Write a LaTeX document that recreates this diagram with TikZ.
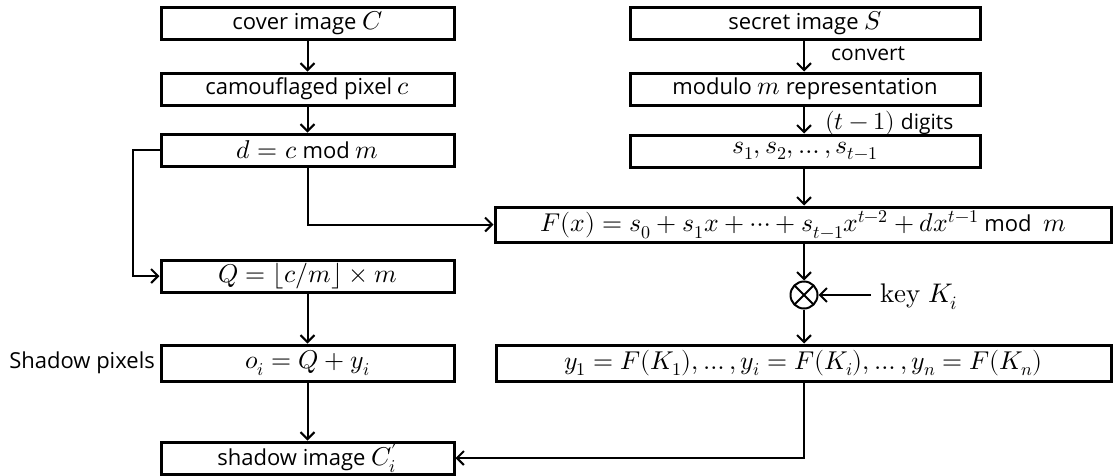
\documentclass[tikz,border=0pt]{standalone}
\usepackage{fontspec}
\usepackage{unicode-math}
\setmathfont{Latin Modern Math}[Scale=1.17]
\setsansfont{Open Sans}
\usetikzlibrary{arrows.meta}
\begin{document}
\begin{tikzpicture}[x=1pt,y=-1pt,
  every node/.style={font=\fontsize{22}{26}\selectfont\sffamily},
  box/.style={draw, line width=3pt, inner sep=0pt, anchor=center},
  lbox/.style={box, minimum width=293pt, minimum height=32pt},
  conn/.style={line width=2pt, -{Straight Barb[length=7pt,width=14pt,line width=2pt]}},
  lbl/.style={inner sep=0pt, anchor=west}]
\useasboundingbox (0,0) rectangle (1114,475);

% left column
\node[lbox] (cover) at (307.5,23) {cover image $C$};
\node[lbox] (camo)  at (307.5,89) {camouflaged pixel $c$};
\node[lbox] (dmod)  at (307.5,150) {$d = c$ mod $m$};
\node[lbox] (quot)  at (307.5,276) {$Q = \lfloor c/m \rfloor \times m$};
\node[lbox, minimum height=36pt] (opix) at (307.5,363) {$o_i = Q + y_i$};
\node[lbox] (shadow) at (307.5,458) {shadow image $C_i^{\prime}$};
\node[lbl, anchor=east, font=\fontsize{22}{26}\selectfont\sffamily] (splab) at (155,363) {Shadow pixels};

% right column
\node[box, minimum width=350pt, minimum height=32pt] (secret) at (805,23) {secret image $S$};
\node[box, minimum width=350pt, minimum height=32pt] (modrep) at (805,89) {modulo $m$ representation};
\node[box, minimum width=350pt, minimum height=32pt] (digits) at (805,151) {$s_1, s_2, \ldots, s_{t-1}$};
\node[box, minimum width=616pt, minimum height=35pt] (poly) at (803,224.5)
  {$F(x) = s_0 + s_1 x + \cdots + s_{t-1} x^{t-2} + d x^{t-1}$ mod \ $m$};
\node[draw, circle, line width=2pt, minimum size=27pt, inner sep=0pt,
  path picture={\draw[line width=1.8pt]
    (path picture bounding box.north west) -- (path picture bounding box.south east)
    (path picture bounding box.south west) -- (path picture bounding box.north east);}]
  (mult) at (804,295) {};
\node[box, minimum width=615pt, minimum height=36pt] (shares) at (803.5,363)
  {$y_1 = F(K_1), \ldots, y_i = F(K_i), \ldots, y_n = F(K_n)$};
\node[lbl, font=\fontsize{23}{26}\selectfont] (key) at (880,297) {$\symup{key}\ K_i$};

% labels on the arrows
\node[lbl, font=\fontsize{21}{24}\selectfont\sffamily] (convlab) at (831,54) {convert};
\node[lbl, font=\fontsize{21}{24}\selectfont\sffamily] (diglab) at (825,123) {$(t-1)$ digits};

% connectors
\draw[conn] (cover) -- (camo);
\draw[conn] (camo) -- (dmod);
\draw[conn] (dmod.west) -- (133,150) -- (133,276) -- (quot.west);
\draw[conn] (dmod.south) -- (307.5,224.5) -- (poly.west);
\draw[conn] (quot) -- (opix);
\draw[conn] (opix) -- (shadow);
\draw[conn] (secret.south -| 804,0) -- (modrep.north -| 804,0);
\draw[conn] (modrep.south -| 804,0) -- (digits.north -| 804,0);
\draw[conn] (digits.south -| 804,0) -- (poly.north -| 804,0);
\draw[conn] (poly.south -| mult) -- (mult);
\draw[conn] (key.west) ++(-9,-2) coordinate (keyend) -- (mult);
\draw[conn] (mult) -- (shares.north -| mult);
\draw[conn] (shares.south -| mult) -- (mult |- shadow) -- (shadow.east);
\end{tikzpicture}
\end{document}
